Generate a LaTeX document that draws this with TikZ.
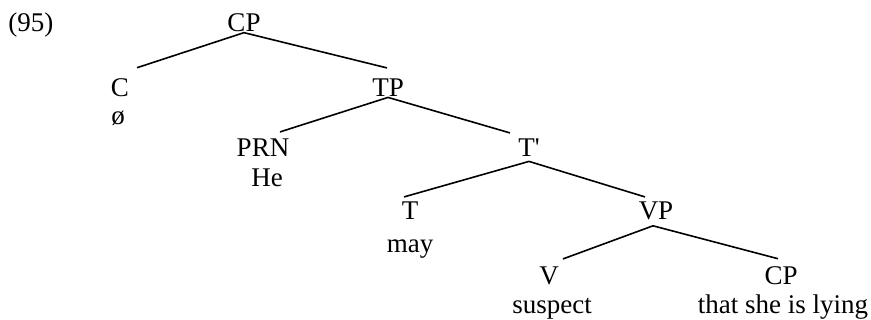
\documentclass[tikz,border=0pt]{standalone}
\usepackage{fontspec}
\setmainfont{Liberation Serif}
\begin{document}
\begin{tikzpicture}[x=0.5pt,y=-0.5pt,
    lab/.style={inner sep=0pt,anchor=base,font=\fontsize{13.5}{16}\selectfont},
    branch/.style={line width=0.8pt}]
  \useasboundingbox (0,0) rectangle (871,320);

  \node[lab,anchor=base west] (ex) at (8,32) {(95)};

  \node[lab] (cptop) at (244,32) {CP};
  \node[lab] (c) at (120,97) {C};
  \node[lab] (cnull) at (118,125) {ø};
  \node[lab] (tp) at (388,97) {TP};
  \node[lab] (prn) at (263,157) {PRN};
  \node[lab] (he) at (267,186) {He};
  \node[lab] (tbar) at (529,157) {T\textquotesingle};
  \node[lab] (t) at (410,220) {T};
  \node[lab] (may) at (410,252) {may};
  \node[lab] (vp) at (656,220) {VP};
  \node[lab] (v) at (549,284) {V};
  \node[lab] (suspect) at (552,313) {suspect};
  \node[lab] (cpbot) at (781,284) {CP};
  \node[lab] (lying) at (783,313) {that she is lying};

  \draw[branch] (cptop.south) -- ([xshift=8.5pt,yshift=5.5pt]c.north);
  \draw[branch] (cptop.south) -- ([xshift=-0.5pt,yshift=5.5pt]tp.north);
  \draw[branch] (tp.south) -- ([xshift=8.5pt,yshift=3.5pt]prn.north);
  \draw[branch] (tp.south) -- ([xshift=-9.5pt,yshift=3pt]tbar.north);
  \draw[branch] ([yshift=-2pt]tbar.south) -- ([xshift=-3pt,yshift=2.5pt]t.north);
  \draw[branch] ([yshift=-2pt]tbar.south) -- ([xshift=-5.5pt,yshift=2.5pt]vp.north);
  \draw[branch] ([xshift=-1.5pt,yshift=-2.5pt]vp.south) -- ([xshift=7pt,yshift=3.5pt]v.north);
  \draw[branch] ([xshift=-1.5pt,yshift=-2.5pt]vp.south) -- ([xshift=-1.5pt,yshift=3.5pt]cpbot.north);
\end{tikzpicture}
\end{document}
